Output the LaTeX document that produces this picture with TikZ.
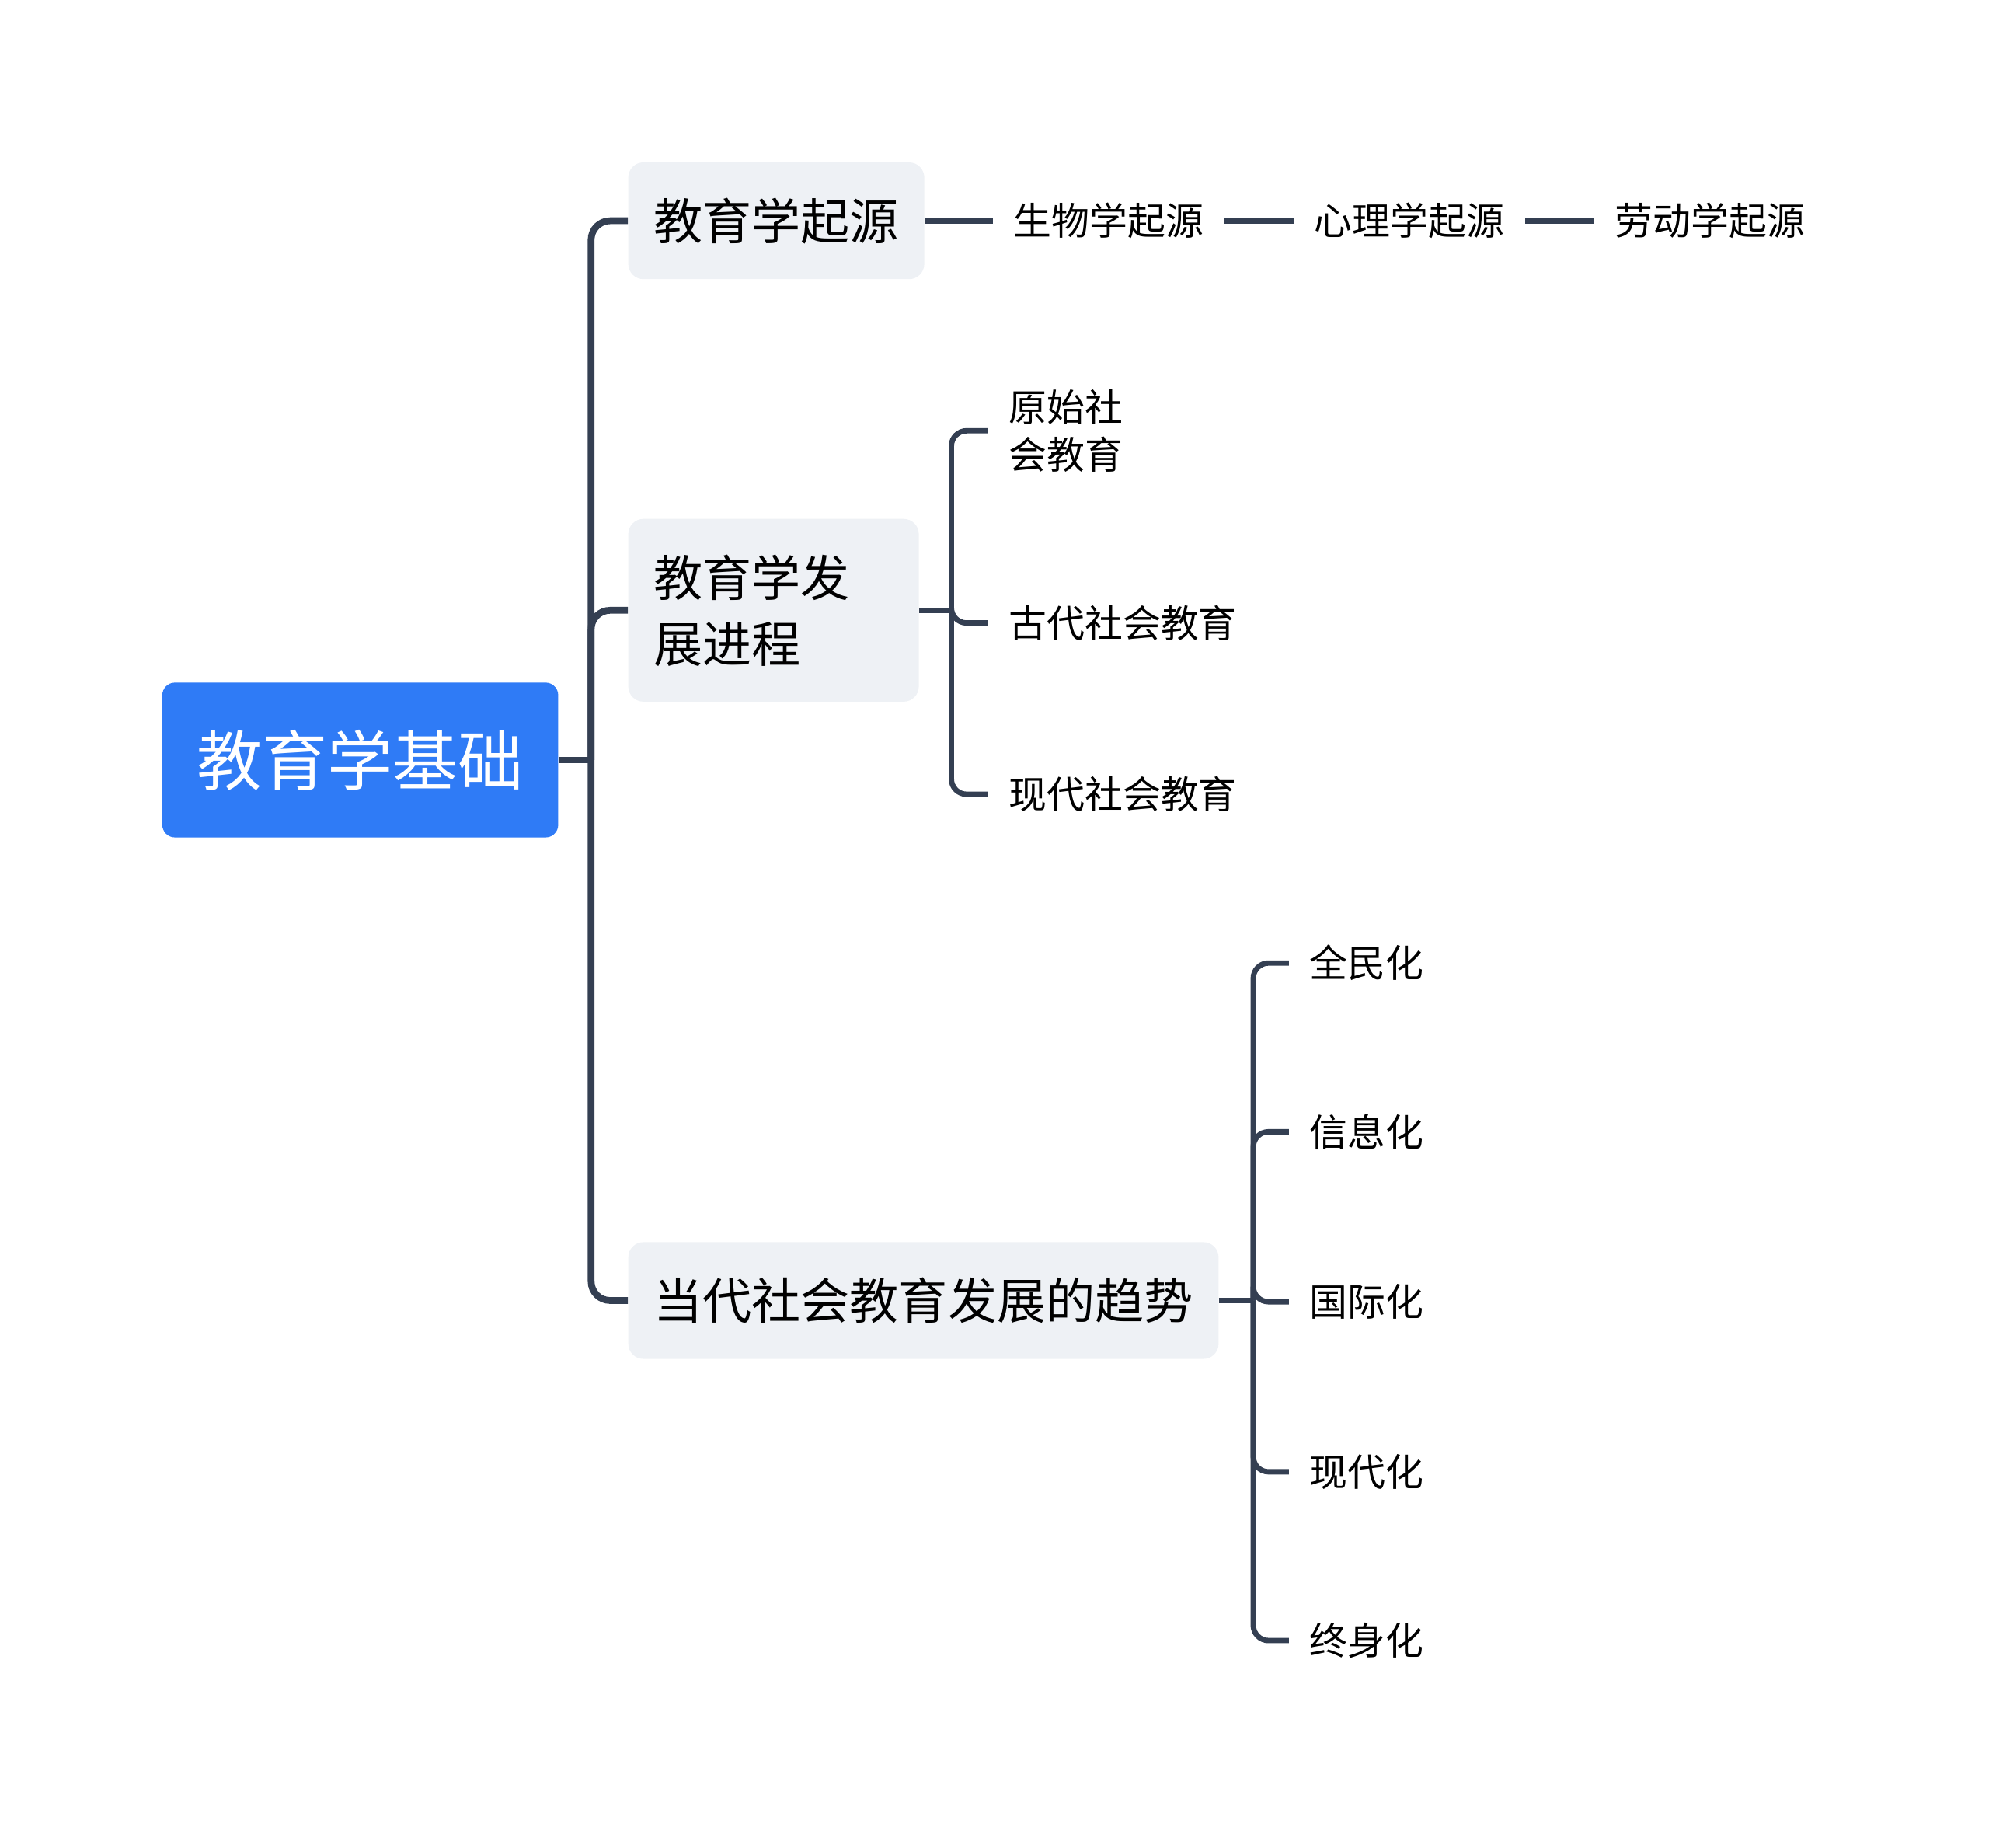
\documentclass[tikz,border=0pt]{standalone}
\usepackage{fontspec}
\setmainfont{Noto Sans CJK SC}
\definecolor{rootblue}{RGB}{47,123,246}
\definecolor{boxgray}{RGB}{238,241,245}
\definecolor{linkdark}{RGB}{52,63,82}
\tikzset{
  rootbox/.style={fill=rootblue, text=white, rounded corners=0.25cm,
    minimum width=7.8cm, minimum height=3.05cm, inner sep=0pt,
    font=\fontsize{36.6pt}{44pt}\selectfont},
  topicbox/.style={fill=boxgray, rounded corners=0.3cm, anchor=west,
    minimum height=2.3cm, inner xsep=0.5cm, inner ysep=0pt,
    font=\fontsize{27.5pt}{37pt}\selectfont},
  leaf/.style={anchor=west, align=left, inner xsep=0.4cm, inner ysep=0pt,
    font=\fontsize{21.3pt}{26.3pt}\selectfont},
  trunk/.style={linkdark, line width=3.8pt, rounded corners=0.375cm},
  twig/.style={linkdark, line width=3pt, rounded corners=0.3cm},
}
\begin{document}
\begin{tikzpicture}[x=0.025cm,y=-0.025cm]
  \useasboundingbox (0,0) rectangle (1568,1456);
  % root
  \node[rootbox] (root) at (284,599) {教育学基础};
  % first level
  \node[topicbox] (qiyuan) at (495,174) {教育学起源};
  \node[topicbox, minimum height=3.6cm, text width=4.725cm, align=left] (jincheng) at (495,481) {教育学发\\展进程};
  \node[topicbox] (qushi) at (495,1025) {当代社会教育发展的趋势};
  % second level
  \node[leaf] (shengwu) at (783,174) {生物学起源};
  \node[leaf] (xinli) at (1020,174) {心理学起源};
  \node[leaf] (laodong) at (1257,174) {劳动学起源};
  \node[leaf] (yuanshi) at (779,339.5) {原始社\\会教育};
  \node[leaf] (gudai) at (779,491) {古代社会教育};
  \node[leaf] (xiandai) at (779,626) {现代社会教育};
  \node[leaf] (quanmin) at (1016,759) {全民化};
  \node[leaf] (xinxi) at (1016,892) {信息化};
  \node[leaf] (guoji) at (1016,1026) {国际化};
  \node[leaf] (xiandaihua) at (1016,1160) {现代化};
  \node[leaf] (zhongshen) at (1016,1293) {终身化};
  % hubs
  \coordinate (hubroot) at (466,599);
  \coordinate (hubjc) at (750,481);
  \coordinate (hubqs) at (988,1025);
  % links
  \draw[trunk] (root.east) -- (hubroot);
  \foreach \t in {qiyuan,jincheng,qushi}
    \draw[trunk] (hubroot) |- (\t.west);
  \draw[twig] (qiyuan.east) -- (shengwu.west);
  \draw[twig] (shengwu.east) -- (xinli.west);
  \draw[twig] (xinli.east) -- (laodong.west);
  \draw[twig] (jincheng.east) -- (hubjc);
  \foreach \t in {yuanshi,gudai,xiandai}
    \draw[twig] (hubjc) |- (\t.west);
  \draw[twig] (qushi.east) -- (hubqs);
  \foreach \t in {quanmin,xinxi,guoji,xiandaihua,zhongshen}
    \draw[twig] (hubqs) |- (\t.west);
\end{tikzpicture}
\end{document}
